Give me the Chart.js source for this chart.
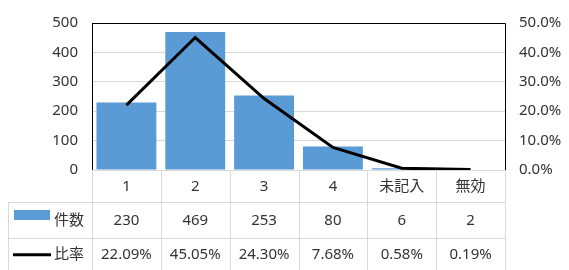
<!DOCTYPE html>
<html>
<head>
<meta charset="utf-8">
<script src="https://cdn.jsdelivr.net/npm/chart.js@4/dist/chart.umd.min.js"></script>
<style>
  html, body { margin: 0; padding: 0; background: #fff; }
  #wrap { width: 569px; height: 270px; position: relative; }
</style>
</head>
<body>
<div id="wrap"><canvas id="c"></canvas></div>
<script>
// -------- Datos --------
const categories = ["1", "2", "3", "4", "未記入", "無効"];
const counts = [230, 469, 253, 80, 6, 2];
const rates = [22.09, 45.05, 24.30, 7.68, 0.58, 0.19];
const countLabel = "件数";
const rateLabel = "比率";

const FONT = "'Noto Sans', 'Noto Sans CJK JP', sans-serif";
const TEXT = "#333333";
const GRID = "#D9D9D9";
const BAR = "#5B9BD5";

// -------- Tabla de datos (debajo del gráfico) --------
const dataTable = {
  id: "dataTable",
  afterDraw(chart) {
    const ctx = chart.ctx;
    const area = chart.chartArea;
    const x = chart.scales.x;
    const top = area.bottom;
    const rows = [top, 202, 237.5, 270];
    const tableLeft = 8;
    const colW = (area.right - area.left) / categories.length;

    ctx.save();
    // bordes del área del gráfico
    ctx.strokeStyle = "#000";
    ctx.lineWidth = 1;
    ctx.beginPath();
    ctx.moveTo(area.left, area.top + 0.5);
    ctx.lineTo(area.right + 0.5, area.top + 0.5);
    ctx.lineTo(area.right + 0.5, area.bottom);
    ctx.stroke();

    // líneas de la tabla
    ctx.strokeStyle = GRID;
    ctx.beginPath();
    ctx.moveTo(area.left, top + 0.5);
    ctx.lineTo(area.right, top + 0.5);
    for (const y of [rows[1], rows[2]]) {
      ctx.moveTo(tableLeft, Math.round(y) + 0.5);
      ctx.lineTo(area.right, Math.round(y) + 0.5);
    }
    for (let i = 0; i <= categories.length; i++) {
      const xx = Math.round(area.left + i * colW) + 0.5;
      ctx.moveTo(xx, top);
      ctx.lineTo(xx, rows[3]);
    }
    ctx.moveTo(tableLeft + 0.5, rows[1]);
    ctx.lineTo(tableLeft + 0.5, rows[3]);
    ctx.stroke();

    // textos
    ctx.fillStyle = TEXT;
    ctx.font = "15px " + FONT;
    ctx.textAlign = "center";
    ctx.textBaseline = "middle";
    const mids = [(rows[0] + rows[1]) / 2 + 1, (rows[1] + rows[2]) / 2 + 1, (rows[2] + rows[3]) / 2 + 1];
    categories.forEach((c, i) => {
      const cx = x.getPixelForValue(i);
      ctx.fillText(c, cx, mids[0]);
      ctx.fillText(String(counts[i]), cx, mids[1]);
      ctx.fillText(rates[i].toFixed(2) + "%", cx, mids[2]);
    });

    // leyenda en la tabla
    ctx.fillStyle = BAR;
    ctx.fillRect(14, 210, 36, 10);
    ctx.strokeStyle = "#000";
    ctx.lineWidth = 3;
    ctx.beginPath();
    ctx.moveTo(13, mids[2]);
    ctx.lineTo(51, mids[2]);
    ctx.stroke();
    ctx.fillStyle = TEXT;
    ctx.textAlign = "left";
    ctx.fillText(countLabel, 54, mids[1]);
    ctx.fillText(rateLabel, 54, mids[2]);
    ctx.restore();
  }
};

new Chart(document.getElementById("c"), {
  data: {
    labels: categories,
    datasets: [
      {
        type: "line",
        label: rateLabel,
        data: rates,
        yAxisID: "y1",
        borderColor: "#000",
        borderWidth: 3,
        pointRadius: 0,
        tension: 0,
        order: 0
      },
      {
        type: "bar",
        label: countLabel,
        data: counts,
        yAxisID: "y",
        backgroundColor: BAR,
        barPercentage: 0.87,
        categoryPercentage: 1,
        order: 1
      }
    ]
  },
  options: {
    responsive: true,
    maintainAspectRatio: false,
    animation: false,
    layout: { padding: { top: 21, bottom: 100, left: 0, right: 0 } },
    plugins: { legend: { display: false }, tooltip: { enabled: false } },
    scales: {
      x: { display: false, offset: true },
      y: {
        position: "left",
        min: 0, max: 500,
        ticks: { stepSize: 100, color: TEXT, font: { size: 15, family: FONT }, padding: 14 },
        grid: { color: GRID, drawTicks: false },
        border: { color: "#000", width: 1 },
        afterFit(s) { s.width = 92; }
      },
      y1: {
        position: "right",
        min: 0, max: 50,
        ticks: {
          stepSize: 10, color: TEXT, font: { size: 15, family: FONT }, padding: 14,
          callback: v => v.toFixed(1) + "%"
        },
        grid: { display: false, drawTicks: false },
        border: { display: false },
        afterFit(s) { s.width = 64; }
      }
    }
  },
  plugins: [dataTable]
});
</script>
</body>
</html>
